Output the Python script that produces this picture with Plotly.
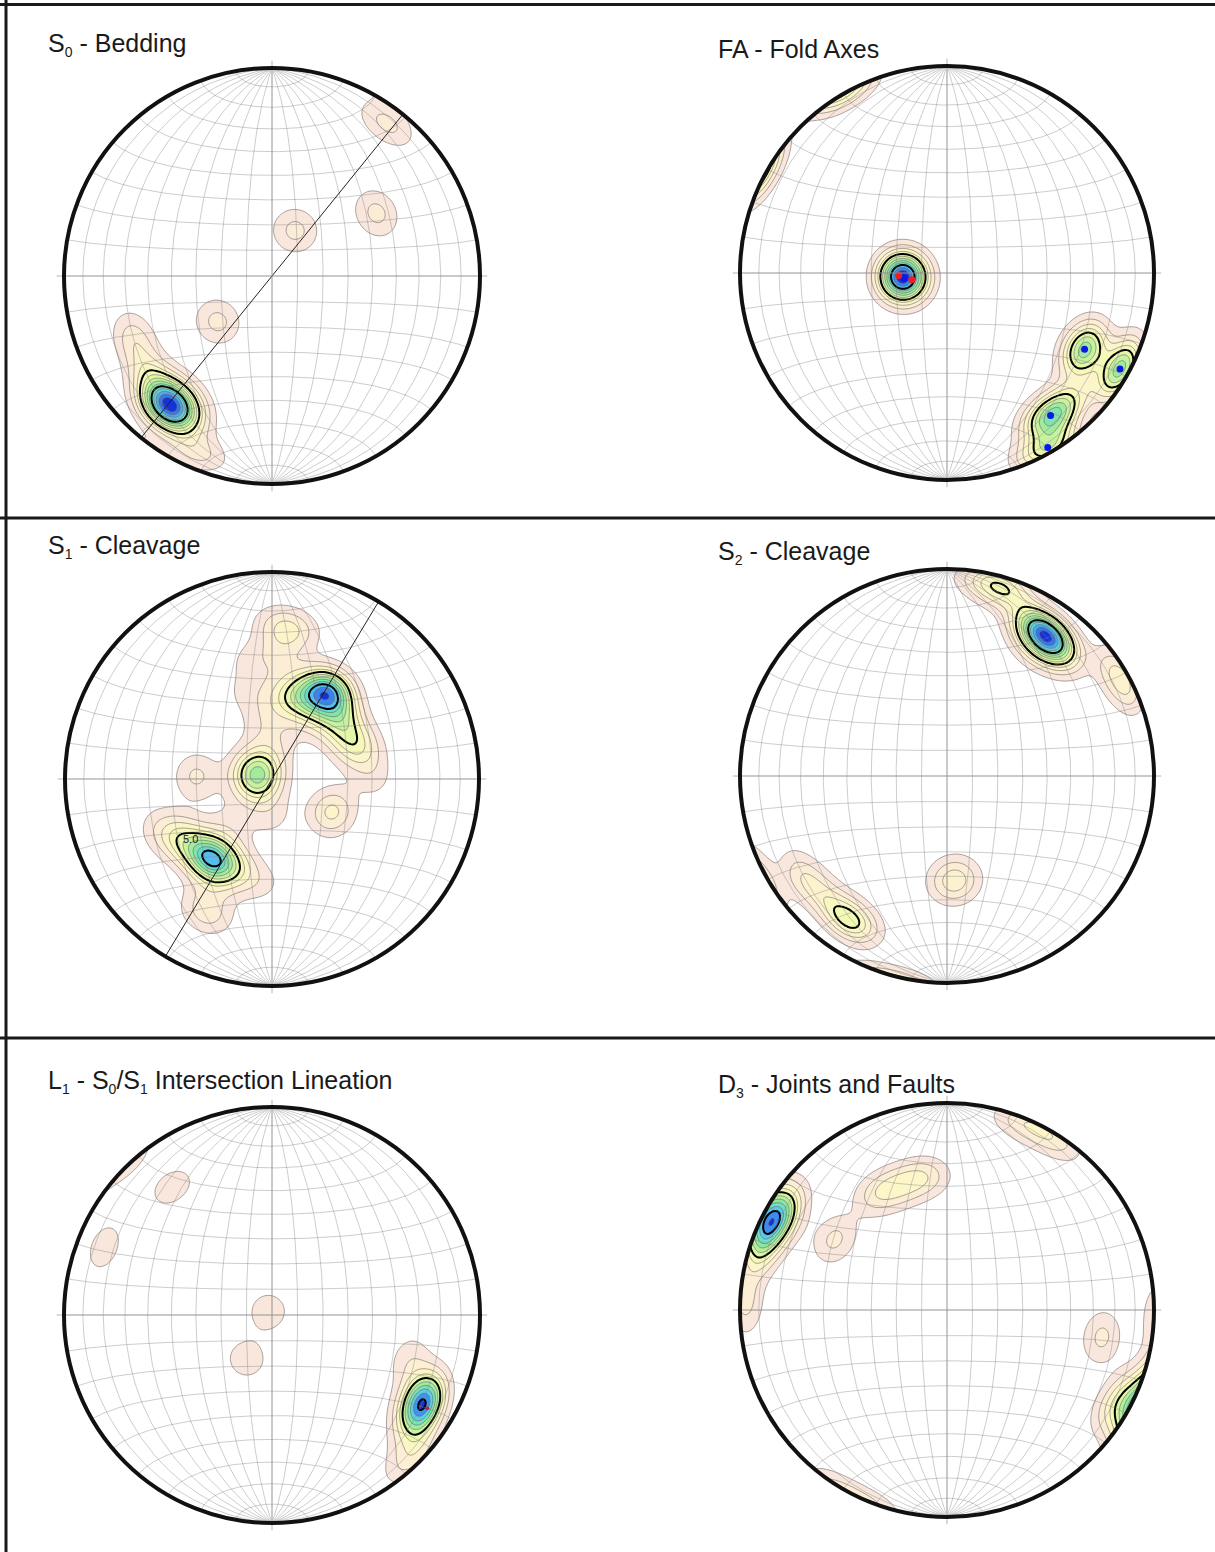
import numpy as np
import plotly.graph_objects as go

W, H = 1215, 1552
K = 80.0  # concentration of the exponential (Fisher) counting kernel

# ---------------------------------------------------------------------------
# Orientation data: trend / plunge (degrees, lower hemisphere) of poles or lines,
# with the number of readings recorded at each orientation.
# ---------------------------------------------------------------------------
S0_TREND = [218, 215, 219, 223, 222, 218, 214, 233, 246, 203, 230, 27, 59, 37]
S0_PLUNGE = [22, 25, 28, 24, 18, 16, 20, 26, 28, 9, 62, 70, 41, 9]
S0_COUNT = [2, 1, 1, 1, 1, 1, 1, 1, 1, 1, 1, 1, 1, 1]

FA_TREND = [266, 262, 119, 119, 144, 150, 135]
FA_PLUNGE = [72, 74, 25, 5, 16, 3, 16]
FA_COUNT = [5, 2, 4, 4, 4, 3, 1]
FA_MAX_TREND = [263, 119, 119, 144, 150]
FA_MAX_PLUNGE = [73, 25, 5, 16, 3]
FA_MEAN_TREND = [267, 259]
FA_MEAN_PLUNGE = [71, 76]

S1_TREND = [33, 27, 39, 34, 30, 21, 50, 9, 64, 36,
            8, 4, 1, 350, 344, 350, 5,
            286, 225, 309, 333, 260, 180, 6,
            272, 119, 72, 90,
            217, 224, 210, 232, 202, 239, 246, 222, 186, 206, 208]
S1_PLUNGE = [49, 48, 50, 45, 54, 55, 54, 58, 56, 62,
             28, 34, 24, 41, 54, 67, 44,
             84, 84, 80, 85, 81, 75, 75,
             60, 63, 52, 49,
             50, 50, 51, 48, 51, 45, 39, 66, 48, 28, 37]
S1_COUNT = [6, 1, 1, 1, 1, 3, 3, 2, 2, 1,
            2, 1, 1, 1, 1, 1, 1,
            4, 1, 1, 1, 1, 1, 1,
            2, 3, 2, 1,
            7, 1, 1, 2, 2, 2, 1, 1, 1, 2, 1]

S2_TREND = [35, 31, 41, 35, 17, 11, 63, 59, 175, 177, 213, 217, 228, 236]
S2_PLUNGE = [18, 16, 20, 25, 7, 4, 5, 5, 50, 46, 17, 18, 18, 16]
S2_COUNT = [4, 2, 2, 1, 2, 1, 1, 1, 1, 1, 2, 1, 1, 1]

L1_TREND = [121, 118, 124, 119, 108, 132, 137, 315, 210, 322, 292]
L1_PLUNGE = [17, 18, 15, 21, 31, 9, 3, 88, 70, 23, 14]
L1_COUNT = [2, 2, 2, 1, 1, 1, 1, 1, 1, 1, 1]
L1_MAX_TREND = [121]
L1_MAX_PLUNGE = [14]

D3_TREND = [297, 302, 293, 299, 287, 120, 116, 351, 340, 329, 302, 272, 22, 32, 100]
D3_PLUNGE = [6, 6, 6, 11, 6, 8, 4, 35, 36, 35, 36, 3, 3, 3, 25]
D3_COUNT = [2, 1, 1, 1, 1, 1, 1, 1, 1, 1, 1, 1, 1, 1, 1]

# great circles (strike, dip) drawn over the contours
S0_GIRDLE = (39, 90)
S1_GIRDLE = (31, 90)

# contour colours, from the lowest to the highest level of each net
PALETTE = [
    (0.00, (249, 231, 221)), (0.10, (252, 238, 212)), (0.20, (252, 246, 200)),
    (0.30, (243, 249, 180)), (0.40, (218, 245, 165)), (0.50, (180, 238, 155)),
    (0.60, (140, 230, 160)), (0.70, (110, 224, 198)), (0.80, (90, 200, 236)),
    (0.90, (60, 140, 240)), (1.00, (20, 50, 215)),
]

FONT = "Liberation Sans, Arial, sans-serif"


def sub(s):
    return "<sub><span style='font-size:14px'>%s</span></sub>" % s


PANELS = [
    dict(title="S%s - Bedding" % sub("0"), t=S0_TREND, p=S0_PLUNGE, c=S0_COUNT, step=1,
         center=(272, 276), R=208, label=(46, 44), girdle=S0_GIRDLE),
    dict(title="FA - Fold Axes", t=FA_TREND, p=FA_PLUNGE, c=FA_COUNT, step=1,
         center=(947, 273), R=207, label=(716, 49)),
    dict(title="S%s - Cleavage" % sub("1"), t=S1_TREND, p=S1_PLUNGE, c=S1_COUNT, step=1,
         center=(272, 779), R=207, label=(46, 546), girdle=S1_GIRDLE),
    dict(title="S%s - Cleavage" % sub("2"), t=S2_TREND, p=S2_PLUNGE, c=S2_COUNT, step=1,
         center=(947, 776), R=207, label=(716, 552)),
    dict(title="L%s - S%s/S%s Intersection Lineation" % (sub("1"), sub("0"), sub("1")),
         t=L1_TREND, p=L1_PLUNGE, c=L1_COUNT, step=1.5,
         center=(272, 1315), R=208, label=(46, 1081)),
    dict(title="D%s - Joints and Faults" % sub("3"), t=D3_TREND, p=D3_PLUNGE, c=D3_COUNT,
         step=1, center=(947, 1310), R=207, label=(716, 1085)),
]

EXT = 1.1  # axis half-range in net units (primitive radius = 1)


def project(trend, plunge):
    """Lambert equal-area, lower hemisphere, primitive radius 1."""
    t = np.radians(np.asarray(trend, float))
    p = np.radians(np.asarray(plunge, float))
    r = np.sqrt(2.0) * np.sin((np.pi / 2 - p) / 2)
    return r * np.sin(t), r * np.cos(t)


def unit_vectors(trend, plunge):
    t = np.radians(np.asarray(trend, float))
    p = np.radians(np.asarray(plunge, float))
    return np.stack([np.cos(p) * np.cos(t), np.cos(p) * np.sin(t), np.sin(p)], axis=-1)


# evaluation grid extends past the axes so the field's edges stay out of view
GRID = np.linspace(-1.3, 1.3, 261)
GX, GY = np.meshgrid(GRID, GRID)
GR = np.hypot(GX, GY)
_colat = 2 * np.arcsin(np.clip(GR, 0, 1.0) / np.sqrt(2))
_az = np.arctan2(GX, GY)
GRID_VEC = np.stack([np.sin(_colat) * np.cos(_az), np.sin(_colat) * np.sin(_az),
                     np.cos(_colat)], axis=-1)


def density(trend, plunge, count):
    """Exponential-kernel counts expressed in standard deviations (Kamb style)."""
    v = unit_vectors(trend, plunge)
    c = np.asarray(count, float)
    n = c.sum()
    area = 1.0 / K
    sigma = np.sqrt(n * area * (1 - area))
    dots = np.abs(GRID_VEC @ v.T)
    z = (np.exp(K * (dots - 1)) * c).sum(axis=-1) / sigma
    z[GR > 1.03] = 0.0  # nothing beyond the primitive
    return z


def palette_color(s):
    for (s0, c0), (s1, c1) in zip(PALETTE[:-1], PALETTE[1:]):
        if s <= s1:
            f = 0 if s1 == s0 else (s - s0) / (s1 - s0)
            rgb = [round(a + (b - a) * f) for a, b in zip(c0, c1)]
            return "rgb(%d,%d,%d)" % tuple(rgb)
    return "rgb(%d,%d,%d)" % PALETTE[-1][1]


def schmidt_grid():
    xs, ys = [], []
    lam_all = np.radians(np.linspace(-90, 90, 181))
    phi_all = np.radians(np.linspace(-90, 90, 181))
    for lon in range(-80, 90, 10):
        lam = np.radians(lon)
        k = np.sqrt(2 / (1 + np.cos(phi_all) * np.cos(lam)))
        xs += list(k * np.cos(phi_all) * np.sin(lam) / np.sqrt(2)) + [None]
        ys += list(k * np.sin(phi_all) / np.sqrt(2)) + [None]
    for lat in range(-80, 90, 10):
        phi = np.radians(lat)
        k = np.sqrt(2 / (1 + np.cos(phi) * np.cos(lam_all)))
        xs += list(k * np.cos(phi) * np.sin(lam_all) / np.sqrt(2)) + [None]
        ys += list(k * np.sin(phi) * np.ones_like(lam_all) / np.sqrt(2)) + [None]
    return xs, ys


def great_circle(strike, dip):
    s = np.radians(strike)
    dd = s + np.pi / 2
    d = np.radians(dip)
    sv = np.array([np.cos(s), np.sin(s), 0.0])
    dv = np.array([np.cos(d) * np.cos(dd), np.cos(d) * np.sin(dd), np.sin(d)])
    rake = np.radians(np.linspace(0, 180, 181))
    v = np.outer(np.cos(rake), sv) + np.outer(np.sin(rake), dv)
    v[v[:, 2] < 0] *= -1
    plunge = np.degrees(np.arcsin(np.clip(v[:, 2], -1, 1)))
    trend = np.degrees(np.arctan2(v[:, 1], v[:, 0]))
    return project(trend, plunge)


circ = np.linspace(0, 2 * np.pi, 361)
mask_path = ("M -2,-2 L 2,-2 L 2,2 L -2,2 Z M " +
             " L ".join("%.4f,%.4f" % (np.cos(a), np.sin(a)) for a in circ) + " Z")
grid_x, grid_y = schmidt_grid()

fig = go.Figure()
shapes, annotations = [], []
layout_axes = {}

for i, pnl in enumerate(PANELS, start=1):
    xa, ya = ("x%d" % i, "y%d" % i) if i > 1 else ("x", "y")
    cx, cy = pnl["center"]
    R = pnl["R"]
    layout_axes["xaxis%d" % i] = dict(domain=[(cx - EXT * R) / W, (cx + EXT * R) / W],
                                      range=[-EXT, EXT], visible=False, fixedrange=True,
                                      anchor=ya)
    layout_axes["yaxis%d" % i] = dict(domain=[1 - (cy + EXT * R) / H, 1 - (cy - EXT * R) / H],
                                      range=[-EXT, EXT], visible=False, fixedrange=True,
                                      anchor=xa)

    z = density(pnl["t"], pnl["p"], pnl["c"])
    step = pnl["step"]
    nc = max(1, int(np.floor(z.max() / step)))
    cols = [palette_color(j / (nc - 1) if nc > 1 else 0) for j in range(nc)]
    cscale = [[0, "rgb(255,255,255)"]] + [[(j + 1) / nc, cols[j]] for j in range(nc)]

    fig.add_trace(go.Contour(
        x=GRID, y=GRID, z=z, xaxis=xa, yaxis=ya, autocontour=False,
        contours=dict(start=step, end=nc * step, size=step, coloring="fill", showlines=True),
        colorscale=cscale, showscale=False, hoverinfo="skip",
        line=dict(color="rgba(105,95,90,0.8)", width=0.7, smoothing=1)))
    fig.add_trace(go.Contour(
        x=GRID, y=GRID, z=z, xaxis=xa, yaxis=ya, autocontour=False,
        contours=dict(start=5 * step, end=15 * step, size=5 * step, coloring="none"),
        showscale=False, hoverinfo="skip",
        line=dict(color="black", width=2, smoothing=1)))

    fig.add_trace(go.Scatter(x=grid_x, y=grid_y, xaxis=xa, yaxis=ya, mode="lines",
                             line=dict(color="rgba(130,130,130,0.5)", width=0.8),
                             hoverinfo="skip", showlegend=False))

    if "girdle" in pnl:
        gx, gy = great_circle(*pnl["girdle"])
        fig.add_trace(go.Scatter(x=gx, y=gy, xaxis=xa, yaxis=ya, mode="lines",
                                 line=dict(color="#222222", width=1),
                                 hoverinfo="skip", showlegend=False))

    # white surround hides the density field outside the primitive
    shapes.append(dict(type="path", path=mask_path, xref=xa, yref=ya, fillcolor="white",
                       fillrule="evenodd", line=dict(width=0), layer="above"))
    for x0, y0, x1, y1 in [(-1.035, 0, 1.035, 0), (0, -1.035, 0, 1.035)]:
        shapes.append(dict(type="line", x0=x0, y0=y0, x1=x1, y1=y1, xref=xa, yref=ya,
                           line=dict(color="rgba(150,150,150,0.7)", width=1), layer="above"))
    shapes.append(dict(type="circle", x0=-1, y0=-1, x1=1, y1=1, xref=xa, yref=ya,
                       line=dict(color="#111111", width=4), layer="above"))

    lx, ly = pnl["label"]
    annotations.append(dict(text=pnl["title"], x=lx / W, y=1 - ly / H, xref="paper",
                            yref="paper", xanchor="left", yanchor="middle", showarrow=False,
                            font=dict(family=FONT, size=25, color="#1a1a1a")))

# density maxima and mean axes of the fold-axis data
mx, my = project(FA_MAX_TREND, FA_MAX_PLUNGE)
fig.add_trace(go.Scatter(x=mx, y=my, xaxis="x2", yaxis="y2", mode="markers",
                         marker=dict(color="#0a18e8", size=7), hoverinfo="skip",
                         showlegend=False))
mx, my = project(FA_MEAN_TREND, FA_MEAN_PLUNGE)
fig.add_trace(go.Scatter(x=mx, y=my, xaxis="x2", yaxis="y2", mode="markers",
                         marker=dict(color="#ee1c24", size=7), hoverinfo="skip",
                         showlegend=False))
mx, my = project(L1_MAX_TREND, L1_MAX_PLUNGE)
fig.add_trace(go.Scatter(x=mx, y=my, xaxis="x5", yaxis="y5", mode="markers",
                         marker=dict(color="#b0283c", size=4), hoverinfo="skip",
                         showlegend=False))

# contour value label on the S1 net
annotations.append(dict(text="5.0", x=-0.396, y=-0.29, xref="x3", yref="y3", showarrow=False,
                        font=dict(family=FONT, size=11, color="#222222")))

# panel frame
for y in [4.5, 518, 1038]:
    shapes.append(dict(type="line", xref="paper", yref="paper", x0=0, x1=1,
                       y0=1 - y / H, y1=1 - y / H, line=dict(color="#1a1a1a", width=3)))
shapes.append(dict(type="line", xref="paper", yref="paper", x0=6 / W, x1=6 / W,
                   y0=0, y1=1, line=dict(color="#1a1a1a", width=3)))

fig.update_layout(width=W, height=H, margin=dict(l=0, r=0, t=0, b=0),
                  paper_bgcolor="white", plot_bgcolor="white", showlegend=False,
                  shapes=shapes, annotations=annotations, **layout_axes)

fig.write_html("out.html")
